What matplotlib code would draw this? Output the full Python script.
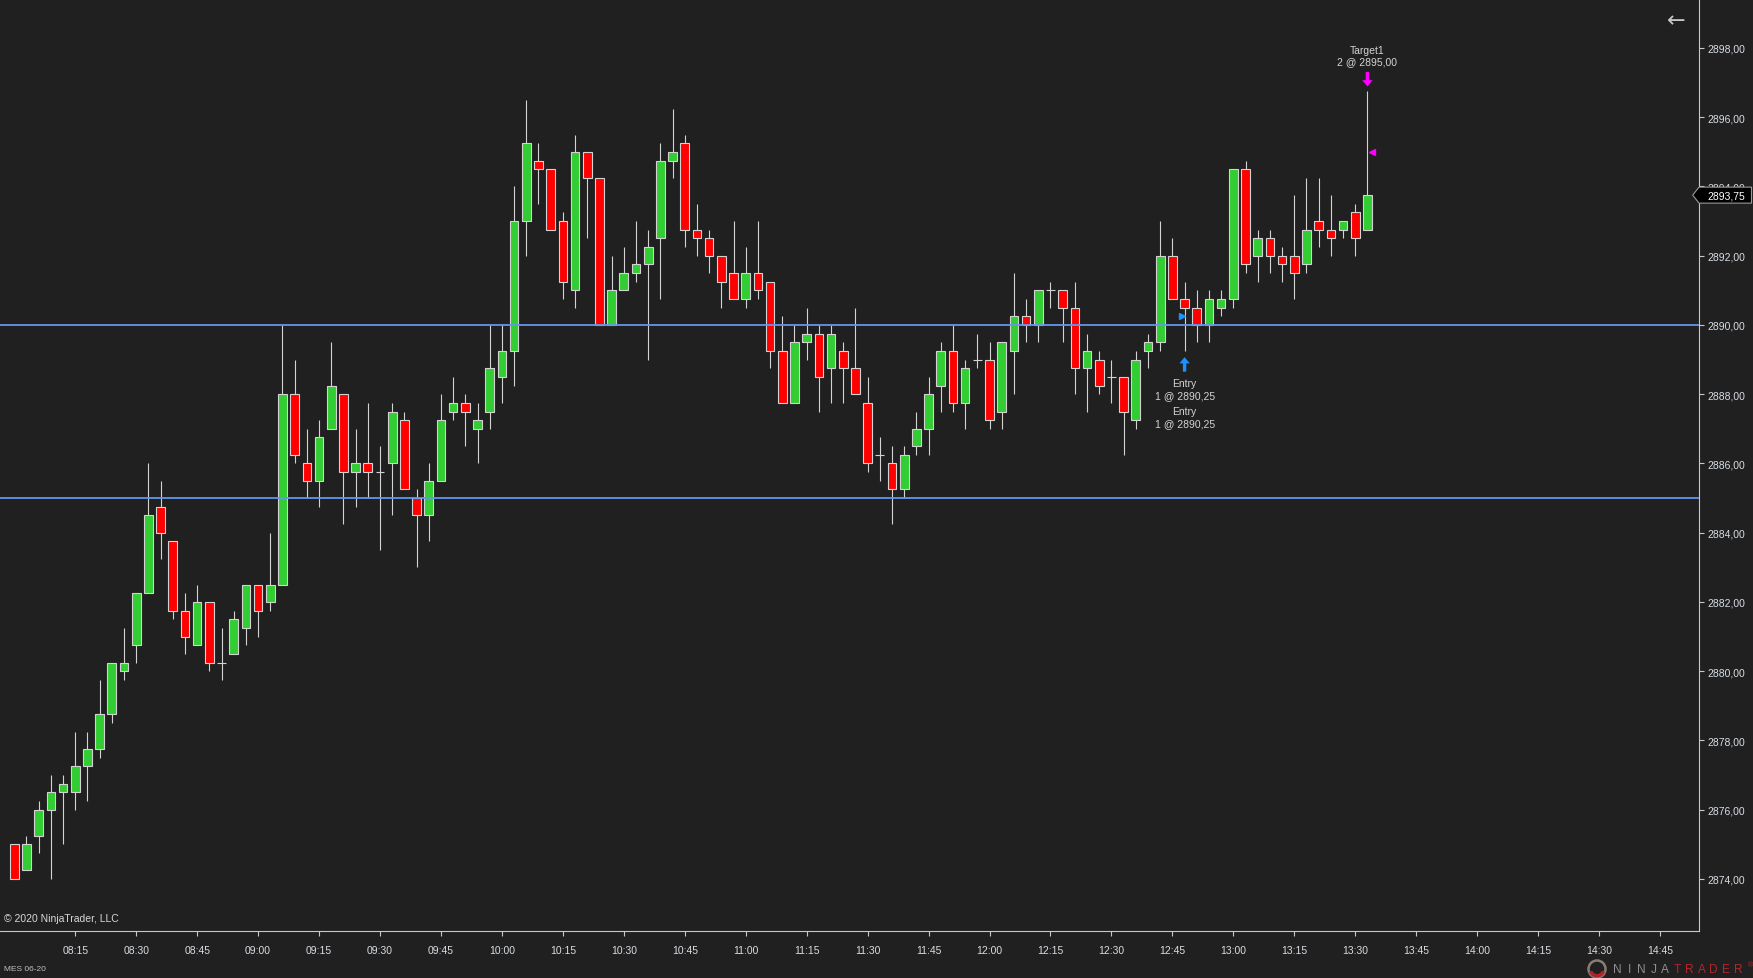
#!/usr/bin/env python3
"""
plot.py - recreate the NinjaTrader MES 06-20 3-minute candlestick screenshot.
"""

import matplotlib

matplotlib.use("Agg")
import matplotlib.pyplot as plt
import matplotlib.transforms as mtrans
from matplotlib.patches import Polygon, Circle, Wedge

W, H, DPI = 1753, 979, 100

BG = "#202020"
GREEN = "#32cd32"
RED = "#ff0000"
OUTLINE = "#d3d3d3"
AXIS = "#c8c8c8"
LABEL = "#d8dde2"
LEVEL = "#6495ed"

plt.rcParams["font.family"] = ["Liberation Sans", "DejaVu Sans"]

# ---------------------------------------------------------------------------
# Data (3-minute bars, first bar stamped 08:00)
# ---------------------------------------------------------------------------

first_bar = "08:00"
bar_minutes = 3

opens = [
    2875.00, 2874.25, 2875.25, 2876.00, 2876.50, 2876.50, 2877.25, 2877.75,
    2878.75, 2880.00, 2880.75, 2882.25, 2884.75, 2883.75, 2881.75, 2880.75,
    2882.00, 2880.25, 2880.50, 2881.25, 2882.50, 2882.00, 2882.50, 2888.00,
    2886.00, 2885.50, 2887.00, 2888.00, 2885.75, 2886.00, 2885.75, 2886.00,
    2887.25, 2885.00, 2884.50, 2885.50, 2887.50, 2887.75, 2887.00, 2887.50,
    2888.50, 2889.25, 2893.00, 2894.75, 2894.50, 2893.00, 2891.00, 2895.00,
    2894.25, 2890.00, 2891.00, 2891.50, 2891.75, 2892.50, 2894.75, 2895.25,
    2892.75, 2892.50, 2892.00, 2891.50, 2890.75, 2891.50, 2891.25, 2889.25,
    2887.75, 2889.50, 2889.75, 2888.75, 2889.25, 2888.75, 2887.75, 2886.25,
    2886.00, 2885.25, 2886.50, 2887.00, 2888.25, 2889.25, 2887.75, 2889.00,
    2889.00, 2887.50, 2889.25, 2890.25, 2890.00, 2891.00, 2891.00, 2890.50,
    2888.75, 2889.00, 2888.50, 2888.50, 2887.25, 2889.25, 2889.50, 2892.00,
    2890.75, 2890.50, 2890.00, 2890.50, 2890.75, 2894.50, 2892.00, 2892.50,
    2892.00, 2892.00, 2891.75, 2893.00, 2892.75, 2892.75, 2893.25, 2892.75,
]
highs = [
    2875.00, 2875.25, 2876.25, 2877.00, 2877.00, 2878.25, 2878.25, 2879.75,
    2880.25, 2881.25, 2882.25, 2886.00, 2885.50, 2883.75, 2882.25, 2882.50,
    2882.00, 2881.25, 2881.75, 2882.50, 2882.50, 2884.00, 2890.00, 2889.00,
    2887.00, 2887.25, 2889.50, 2888.00, 2887.00, 2887.75, 2886.50, 2887.75,
    2887.50, 2885.25, 2886.00, 2888.00, 2888.50, 2888.00, 2887.75, 2890.00,
    2890.00, 2894.00, 2896.50, 2895.25, 2894.50, 2893.25, 2895.50, 2895.00,
    2894.25, 2892.00, 2892.25, 2893.00, 2892.75, 2895.25, 2896.25, 2895.50,
    2893.50, 2892.75, 2892.00, 2893.00, 2892.25, 2893.00, 2891.25, 2890.25,
    2890.00, 2890.50, 2890.00, 2890.00, 2889.50, 2890.50, 2888.50, 2886.75,
    2886.50, 2886.50, 2887.50, 2888.50, 2889.50, 2890.00, 2889.00, 2889.75,
    2889.50, 2889.50, 2891.50, 2890.75, 2891.00, 2891.25, 2891.00, 2891.25,
    2889.75, 2889.25, 2889.00, 2888.50, 2889.25, 2889.75, 2893.00, 2892.50,
    2891.25, 2891.00, 2891.00, 2891.00, 2894.50, 2894.75, 2892.75, 2892.75,
    2892.25, 2893.75, 2894.25, 2894.25, 2893.75, 2893.00, 2893.50, 2896.75,
]
lows = [
    2874.00, 2874.25, 2874.75, 2874.00, 2875.00, 2876.00, 2876.25, 2877.50,
    2878.50, 2879.75, 2880.25, 2882.25, 2883.25, 2881.50, 2880.50, 2880.75,
    2880.00, 2879.75, 2880.50, 2880.75, 2881.00, 2881.75, 2882.50, 2886.00,
    2885.00, 2884.75, 2887.00, 2884.25, 2884.75, 2885.00, 2883.50, 2884.50,
    2885.25, 2883.00, 2883.75, 2885.50, 2887.25, 2886.50, 2886.00, 2887.00,
    2887.75, 2888.25, 2892.00, 2893.50, 2892.75, 2890.75, 2890.50, 2892.50,
    2890.00, 2890.00, 2891.00, 2891.25, 2889.00, 2890.75, 2894.25, 2892.25,
    2892.00, 2891.50, 2890.50, 2890.75, 2890.50, 2890.75, 2888.75, 2887.75,
    2887.75, 2889.00, 2887.50, 2887.75, 2887.75, 2888.00, 2885.75, 2885.50,
    2884.25, 2885.00, 2886.25, 2886.25, 2887.50, 2887.50, 2887.00, 2888.75,
    2887.00, 2887.00, 2888.00, 2889.50, 2889.50, 2890.50, 2889.50, 2888.00,
    2887.50, 2888.00, 2887.75, 2886.25, 2887.00, 2888.75, 2889.25, 2890.75,
    2889.25, 2889.50, 2889.50, 2890.25, 2890.50, 2891.50, 2891.25, 2891.50,
    2891.25, 2890.75, 2891.50, 2892.25, 2892.00, 2892.50, 2892.00, 2892.75,
]
closes = [
    2874.00, 2875.00, 2876.00, 2876.50, 2876.75, 2877.25, 2877.75, 2878.75,
    2880.25, 2880.25, 2882.25, 2884.50, 2884.00, 2881.75, 2881.00, 2882.00,
    2880.25, 2880.25, 2881.50, 2882.50, 2881.75, 2882.50, 2888.00, 2886.25,
    2885.50, 2886.75, 2888.25, 2885.75, 2886.00, 2885.75, 2885.75, 2887.50,
    2885.25, 2884.50, 2885.50, 2887.25, 2887.75, 2887.50, 2887.25, 2888.75,
    2889.25, 2893.00, 2895.25, 2894.50, 2892.75, 2891.25, 2895.00, 2894.25,
    2890.00, 2891.00, 2891.50, 2891.75, 2892.25, 2894.75, 2895.00, 2892.75,
    2892.50, 2892.00, 2891.25, 2890.75, 2891.50, 2891.00, 2889.25, 2887.75,
    2889.50, 2889.75, 2888.50, 2889.75, 2888.75, 2888.00, 2886.00, 2886.25,
    2885.25, 2886.25, 2887.00, 2888.00, 2889.25, 2887.75, 2888.75, 2889.00,
    2887.25, 2889.50, 2890.25, 2890.00, 2891.00, 2891.00, 2890.50, 2888.75,
    2889.25, 2888.25, 2888.50, 2887.50, 2889.00, 2889.50, 2892.00, 2890.75,
    2890.50, 2890.00, 2890.75, 2890.75, 2894.50, 2891.75, 2892.50, 2892.00,
    2891.75, 2891.50, 2892.75, 2892.75, 2892.50, 2893.00, 2892.50, 2893.75,
]

time_labels = [
    "08:15", "08:30", "08:45", "09:00", "09:15", "09:30", "09:45", "10:00",
    "10:15", "10:30", "10:45", "11:00", "11:15", "11:30", "11:45", "12:00",
    "12:15", "12:30", "12:45", "13:00", "13:15", "13:30", "13:45", "14:00",
    "14:15", "14:30", "14:45",
]
price_ticks = [2874, 2876, 2878, 2880, 2882, 2884, 2886, 2888, 2890, 2892,
               2894, 2896, 2898]
levels = [2890.00, 2885.00]

entry_bar = 96
entry_price = 2890.25
entry_qty = 1
target_bar = 111
target_price = 2895.00
target_qty = 2

instrument = "MES 06-20"
copyright_text = "\u00a9 2020 NinjaTrader, LLC"


def minutes(hhmm: str) -> int:
    h, m = hhmm.split(":")
    return int(h) * 60 + int(m)


def bar_index(hhmm: str) -> float:
    return (minutes(hhmm) - minutes(first_bar)) / bar_minutes


def price_fmt(p: float) -> str:
    return f"{p:.2f}".replace(".", ",")


# ---------------------------------------------------------------------------
# Figure
# ---------------------------------------------------------------------------

fig = plt.figure(figsize=(W / DPI, H / DPI), dpi=DPI, facecolor=BG)
ax_right_px, ax_bottom_px = 1699, 932
ax = fig.add_axes([0, (H - ax_bottom_px) / H, ax_right_px / W, ax_bottom_px / H])
ax.set_facecolor(BG)

xs = list(range(len(opens)))

# wicks
ax.vlines(xs, lows, highs, color=OUTLINE, lw=0.8, zorder=2)

# bodies (dojis collapse to a flat outline)
body_colors = [GREEN if c > o else RED for o, c in zip(opens, closes)]
ax.bar(xs, [c - o for o, c in zip(opens, closes)], bottom=opens, width=0.71,
       color=body_colors, edgecolor=OUTLINE, linewidth=0.8, zorder=3)

for lvl in levels:
    ax.axhline(lvl, color=LEVEL, lw=1.3, zorder=4)

ax.set_xlim(-1.173, 138.2)
ax.set_ylim(2872.495, 2899.415)

ax.set_xticks([bar_index(t) for t in time_labels])
ax.set_xticklabels(time_labels)
ax.set_yticks(price_ticks)
ax.set_yticklabels([price_fmt(p) for p in price_ticks])

ax.yaxis.tick_right()
ax.tick_params(axis="y", length=3.6, width=0.8, color=AXIS, pad=2.7,
               labelsize=7.5, labelcolor=LABEL)
ax.tick_params(axis="x", length=3.6, width=0.8, color=AXIS, pad=6.4,
               labelsize=7.5, labelcolor=LABEL)
for side in ("top", "left"):
    ax.spines[side].set_visible(False)
for side in ("right", "bottom"):
    ax.spines[side].set_color(AXIS)
    ax.spines[side].set_linewidth(0.8)

# --- last price marker on the price axis ---
blend = mtrans.blended_transform_factory(ax.transAxes, ax.transData)
last = closes[-1]
half = 8 / 34.62
tip, x0, x1 = 1692.7 / ax_right_px, 1.0, 1751.5 / ax_right_px
marker = Polygon([(tip, last), (x0, last + half), (x1, last + half),
                  (x1, last - half), (x0, last - half)], closed=True,
                 transform=blend, facecolor="#000000", edgecolor="#9a9a9a",
                 lw=0.8, clip_on=False, zorder=20)
ax.add_patch(marker)
ax.text(1707.7 / ax_right_px, last, price_fmt(last), transform=blend,
        ha="left", va="center", fontsize=7.5, color="white", zorder=21,
        clip_on=False)

# --- entry execution ---
ax.arrow(entry_bar, lows[entry_bar] - 0.60, 0, 0.42, width=0.28,
         head_width=0.85, head_length=0.18, length_includes_head=True,
         color="#1e90ff", lw=0, zorder=6)
ax.plot([entry_bar - 0.2], [entry_price], marker=">", ms=4.2,
        color="#1e90ff", mec="#1e90ff", zorder=6)
entry_lines = ["Entry", f"{entry_qty} @ {price_fmt(entry_price)}"] * 2
entry_offsets = [-32.3, -44.0, -60.0, -72.0]
for txt, off in zip(entry_lines, entry_offsets):
    ax.annotate(txt, (entry_bar, lows[entry_bar]), xytext=(0, off * 0.72),
                textcoords="offset points", ha="center", va="center",
                fontsize=7.5, color="#d4d4d4", zorder=7)

# --- target execution ---
ax.arrow(target_bar, highs[target_bar] + 0.56, 0, -0.42, width=0.28,
         head_width=0.85, head_length=0.18, length_includes_head=True,
         color="#ff00ff", lw=0, zorder=6)
ax.plot([target_bar + 0.35], [target_price], marker="<", ms=4.2,
        color="#ff00ff", mec="#ff00ff", zorder=6)
target_lines = ["Target1", f"{target_qty} @ {price_fmt(target_price)}"]
target_offsets = [41.4, 29.8]
for txt, off in zip(target_lines, target_offsets):
    ax.annotate(txt, (target_bar, highs[target_bar]), xytext=(0, off * 0.72),
                textcoords="offset points", ha="center", va="center",
                fontsize=7.5, color="#d4d4d4", zorder=7)

# --- chrome: copyright, instrument, back arrow, logo ---
fig.text(4.3 / W, 1 - 919.3 / H, copyright_text, ha="left", va="center",
         fontsize=7.5, color="#d8d8d8")
fig.text(4.3 / W, 1 - 970 / H, instrument, ha="left", va="center",
         fontsize=6, color="#c0c0c0")
fig.text(1676 / W, 1 - 21.5 / H, "\u2190", ha="center", va="center",
         fontsize=16, color="#c8c8c8", family=["DejaVu Sans"])

pix = mtrans.IdentityTransform()
fig.patches.append(Circle((1597, H - 970), 8.5, transform=pix, fill=False,
                          ec="#8a7d76", lw=1.8))
fig.patches.append(Wedge((1597, H - 970), 8.5, 200, 340, width=3.5,
                         transform=pix, fc="#b0232a", ec="none"))
logo = "NINJATRADER"
for i, ch in enumerate(logo):
    fig.text((1617 + i * 12.1) / W, 1 - 970 / H, ch, ha="center", va="center",
             fontsize=8.6, color="#8f8f8f" if i < 5 else "#b3262d",
             family=["Liberation Sans"])
fig.text(1750 / W, 1 - 966 / H, "\u00ae", ha="center", va="center",
         fontsize=5, color="#b3262d")

fig.savefig("out.png", dpi=DPI, facecolor=BG)
